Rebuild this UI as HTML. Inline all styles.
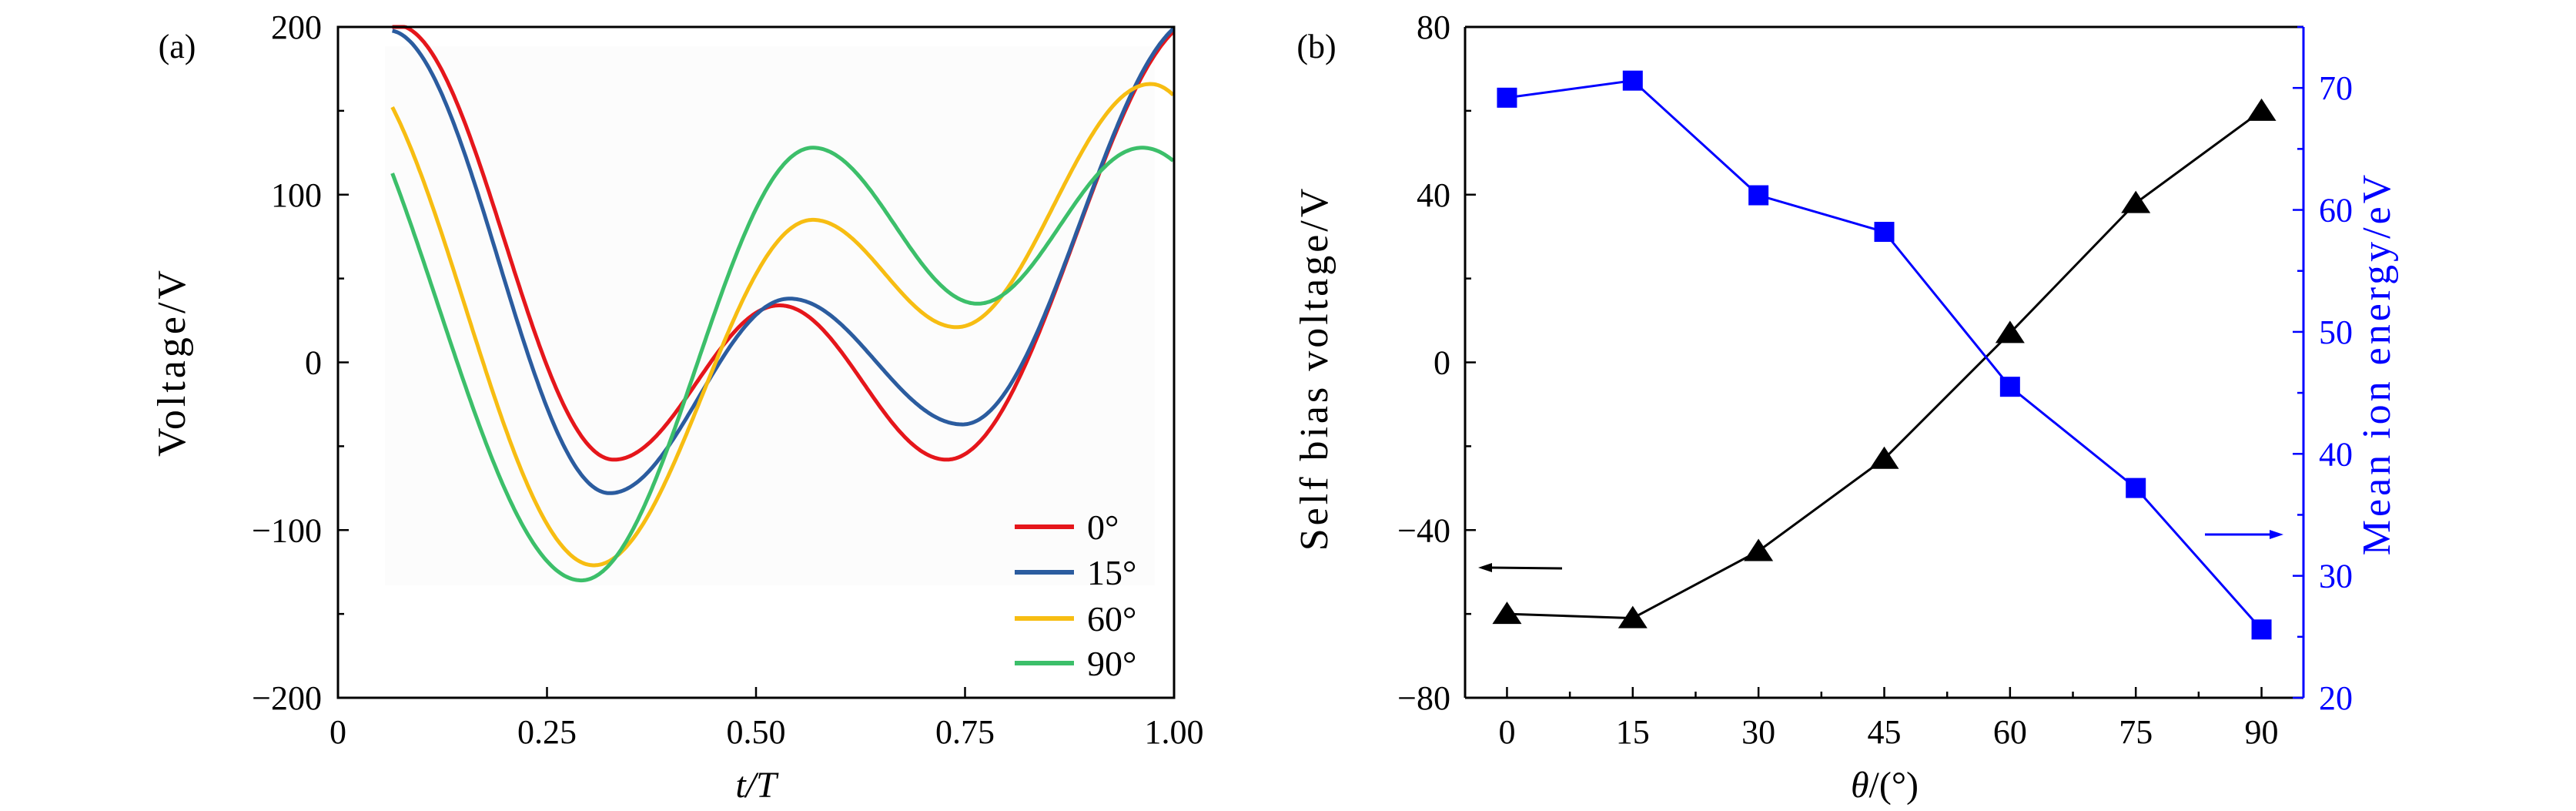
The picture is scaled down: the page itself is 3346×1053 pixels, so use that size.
<!DOCTYPE html>
<html><head><meta charset="utf-8"><style>
html,body{margin:0;padding:0;background:#fff;}
svg{display:block;font-family:"Liberation Serif","DejaVu Serif",serif;}
</style></head><body>
<svg id="s" width="3346" height="1053" viewBox="0 0 3346 1053" xmlns="http://www.w3.org/2000/svg">
<rect x="500" y="60" width="1000" height="700" fill="#fcfcfc"/>
<g id="a"></g>
</svg>
<script>
const S=document.getElementById('a');let h='';
const L=439,R=1525,T=35,B=906;
const ax=t=>L+t*(R-L), ay=v=>B-(v+200)/400*(B-T);
function cosc(ext,t0,t1){const pts=[];
for(let t=t0;t<=t1+1e-9;t+=0.002){let i=0;while(i<ext.length-2&&t>ext[i+1][0])i++;
const a=ext[i],b=ext[i+1];const ph=Math.PI*(t-a[0])/(b[0]-a[0]);const v=(a[1]+b[1])/2+(a[1]-b[1])/2*Math.cos(ph);
pts.push(ax(t).toFixed(1)+','+ay(Math.min(v,200)).toFixed(1));}
return pts.join(' ');}
const series=[
['#e5161b',[[0.07,201],[0.33,-58],[0.528,34],[0.728,-58],[1.035,206]]],
['#2b5c9f',[[0.06,198],[0.325,-78],[0.54,38],[0.747,-37],[1.03,206]]],
['#f7bd12',[[0.0,185],[0.306,-121],[0.568,85],[0.74,21],[0.972,166],[1.17,21]]],
['#3cbf6a',[[-0.05,196],[0.291,-130],[0.568,128],[0.765,35],[0.962,128],[1.16,35]]]];
series.forEach(s=>{h+=`<polyline points="${cosc(s[1],0.065,1.0)}" fill="none" stroke="${s[0]}" stroke-width="5" stroke-linejoin="round"/>`;});
h+=`<rect x="${L}" y="${T}" width="${R-L}" height="${B-T}" fill="none" stroke="#000" stroke-width="3"/>`;
[-200,-100,0,100,200].forEach(v=>{h+=`<line x1="${L}" x2="${L+14}" y1="${ay(v)}" y2="${ay(v)}" stroke="#000" stroke-width="2.5"/><text x="418" y="${ay(v)+15}" font-size="44" text-anchor="end">${v<0?'\u2212'+(-v):v}</text>`;});
[-150,-50,50,150].forEach(v=>{h+=`<line x1="${L}" x2="${L+8}" y1="${ay(v)}" y2="${ay(v)}" stroke="#000" stroke-width="2.5"/>`;});
['0','0.25','0.50','0.75','1.00'].forEach((t,i)=>{const x=ax(i*0.25);h+=`<line x1="${x}" x2="${x}" y1="${B}" y2="${B-14}" stroke="#000" stroke-width="2.5"/><text x="${x}" y="965" font-size="44" text-anchor="middle">${t}</text>`;});
h+=`<text x="982" y="1035" font-size="48" text-anchor="middle" font-style="italic">t/T</text>`;
h+=`<text x="230" y="75" font-size="44" text-anchor="middle">(a)</text>`;
h+=`<text transform="translate(240,470) rotate(-90)" font-size="52" letter-spacing="4" text-anchor="middle">Voltage/V</text>`;
['0°','15°','60°','90°'].forEach((l,i)=>{const y=[684,743,803,861][i];h+=`<line x1="1318" x2="1395" y1="${y}" y2="${y}" stroke="${series[i][0]}" stroke-width="6"/><text x="1412" y="${y+16}" font-size="46">${l}</text>`;});
const L2=1903,R2=2992;const bx=th=>L2+(th+5)/100*(R2-L2);const byl=v=>B-(v+80)/160*(B-T);const byr=v=>B-(v-20)/55*(B-T);
const tri=[-60,-61,-45,-23,7,38,60],sq=[69.2,70.6,61.2,58.2,45.5,37.2,25.6];
h+=`<polyline points="${tri.map((v,i)=>bx(i*15)+','+byl(v)).join(' ')}" fill="none" stroke="#000" stroke-width="3"/>`;
h+=`<polyline points="${sq.map((v,i)=>bx(i*15)+','+byr(v)).join(' ')}" fill="none" stroke="#0000ff" stroke-width="3"/>`;
tri.forEach((v,i)=>{const x=bx(i*15),y=byl(v);h+=`<polygon points="${x-19},${y+13} ${x+19},${y+13} ${x},${y-16}" fill="#000"/>`;});
sq.forEach((v,i)=>{const x=bx(i*15),y=byr(v);h+=`<rect x="${x-13}" y="${y-13}" width="26" height="26" fill="#0000ff"/>`;});
h+=`<line x1="${L2}" x2="${R2}" y1="${T}" y2="${T}" stroke="#000" stroke-width="3"/><line x1="${L2}" x2="${R2}" y1="${B}" y2="${B}" stroke="#000" stroke-width="3"/><line x1="${L2}" x2="${L2}" y1="${T}" y2="${B}" stroke="#000" stroke-width="3"/><line x1="${R2}" x2="${R2}" y1="${T}" y2="${B}" stroke="#0000ff" stroke-width="3"/>`;
[-80,-40,0,40,80].forEach(v=>{h+=`<line x1="${L2}" x2="${L2+14}" y1="${byl(v)}" y2="${byl(v)}" stroke="#000" stroke-width="2.5"/><text x="1884" y="${byl(v)+15}" font-size="44" text-anchor="end">${v<0?'\u2212'+(-v):v}</text>`;});
[-60,-20,20,60].forEach(v=>{h+=`<line x1="${L2}" x2="${L2+8}" y1="${byl(v)}" y2="${byl(v)}" stroke="#000" stroke-width="2.5"/>`;});
[20,30,40,50,60,70].forEach(v=>{h+=`<line x1="${R2}" x2="${R2-14}" y1="${byr(v)}" y2="${byr(v)}" stroke="#0000ff" stroke-width="2.5"/><text x="3012" y="${byr(v)+15}" font-size="44" fill="#0000ff">${v}</text>`;});
[25,35,45,55,65,75].forEach(v=>{h+=`<line x1="${R2}" x2="${R2-8}" y1="${byr(v)}" y2="${byr(v)}" stroke="#0000ff" stroke-width="2.5"/>`;});
for(let i=0;i<7;i++){const x=bx(i*15);h+=`<line x1="${x}" x2="${x}" y1="${B}" y2="${B-14}" stroke="#000" stroke-width="2.5"/><text x="${x}" y="965" font-size="44" text-anchor="middle">${i*15}</text>`;
 if(i<6){const m=bx(i*15+7.5);h+=`<line x1="${m}" x2="${m}" y1="${B}" y2="${B-8}" stroke="#000" stroke-width="2.5"/>`;}}
h+=`<text x="2448" y="1035" font-size="48" text-anchor="middle"><tspan font-style="italic">θ</tspan>/(°)</text>`;
h+=`<text x="1710" y="75" font-size="44" text-anchor="middle">(b)</text>`;
h+=`<text transform="translate(1724,478) rotate(-90)" font-size="52" letter-spacing="4" text-anchor="middle">Self bias voltage/V</text>`;
h+=`<text transform="translate(3104,472) rotate(-90)" font-size="52" letter-spacing="4" text-anchor="middle" fill="#0000ff">Mean ion energy/eV</text>`;
h+=`<line x1="2029" x2="1935" y1="738" y2="737" stroke="#000" stroke-width="3"/><polygon points="1920,737 1938,731 1938,743" fill="#000"/>`;
h+=`<line x1="2864" x2="2950" y1="694" y2="694" stroke="#0000ff" stroke-width="3"/><polygon points="2966,694 2948,688 2948,700" fill="#0000ff"/>`;
S.innerHTML=h;
</script>
</body></html>
